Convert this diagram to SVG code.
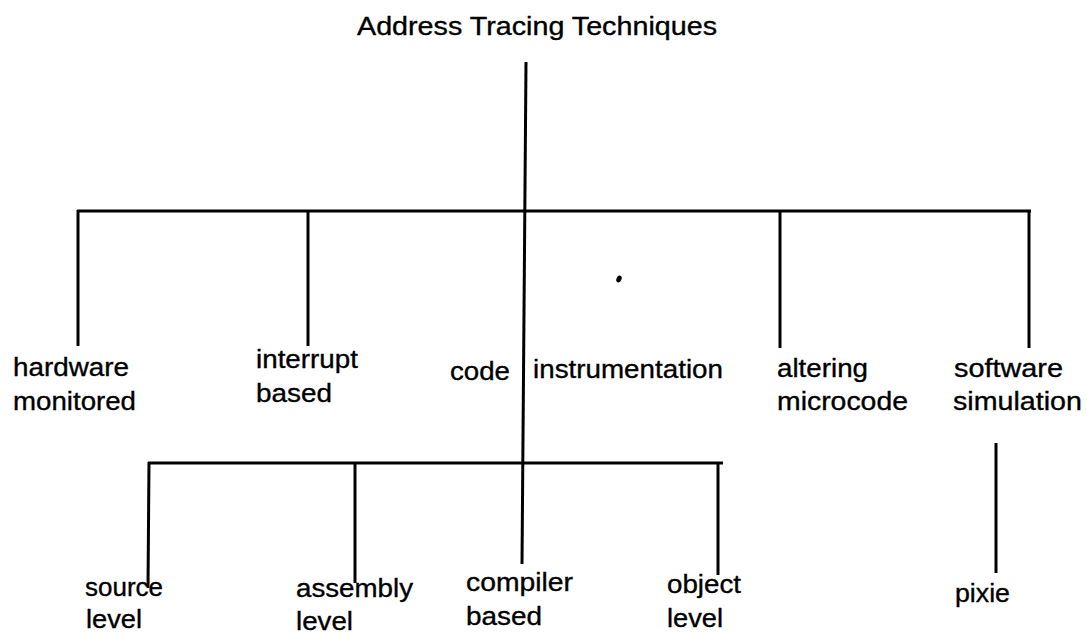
<svg xmlns="http://www.w3.org/2000/svg" width="1087" height="634" viewBox="0 0 1087 634">
<style>
text{font-family:"Liberation Sans",Arial,sans-serif;font-size:26px;fill:#000;stroke:#000;stroke-width:0.35}
.c line{stroke:#000;stroke-width:3;stroke-linecap:butt}
</style>
<rect width="1087" height="634" fill="#fff"/>
<g id="connectors" class="c">
<line x1="526" y1="62" x2="522" y2="564"/>
<line x1="77" y1="211" x2="1031" y2="211"/>
<line x1="78" y1="210" x2="78" y2="346"/>
<line x1="308" y1="210" x2="308" y2="346"/>
<line x1="780" y1="210" x2="780" y2="348"/>
<line x1="1029" y1="210" x2="1029" y2="348"/>
<line x1="148" y1="463" x2="723" y2="463"/>
<line x1="149" y1="462" x2="148" y2="588"/>
<line x1="355" y1="462" x2="355" y2="583"/>
<line x1="718" y1="462" x2="718" y2="575"/>
<line x1="996" y1="443" x2="996" y2="573"/>
</g>
<ellipse cx="619" cy="279" rx="2.5" ry="3.5" transform="rotate(25 619 279)" fill="#000"/>
<g id="root"><text x="357" y="35" textLength="360" lengthAdjust="spacingAndGlyphs">Address Tracing Techniques</text></g>
<g id="hardware"><text x="13" y="376" textLength="116" lengthAdjust="spacingAndGlyphs">hardware</text><text x="13" y="410" textLength="123" lengthAdjust="spacingAndGlyphs">monitored</text></g>
<g id="interrupt"><text x="256" y="368" textLength="102" lengthAdjust="spacingAndGlyphs">interrupt</text><text x="256" y="402" textLength="76" lengthAdjust="spacingAndGlyphs">based</text></g>
<g id="code"><text x="450" y="380" textLength="60" lengthAdjust="spacingAndGlyphs">code</text><text x="533" y="378" textLength="190" lengthAdjust="spacingAndGlyphs">instrumentation</text></g>
<g id="altering"><text x="777" y="377" textLength="91" lengthAdjust="spacingAndGlyphs">altering</text><text x="777" y="410" textLength="131" lengthAdjust="spacingAndGlyphs">microcode</text></g>
<g id="software"><text x="954" y="377" textLength="109" lengthAdjust="spacingAndGlyphs">software</text><text x="953" y="410" textLength="129" lengthAdjust="spacingAndGlyphs">simulation</text></g>
<g id="source"><text x="85" y="596" textLength="78" lengthAdjust="spacingAndGlyphs">source</text><text x="86" y="628" textLength="56" lengthAdjust="spacingAndGlyphs">level</text></g>
<g id="assembly"><text x="296" y="597" textLength="117" lengthAdjust="spacingAndGlyphs">assembly</text><text x="296" y="630" textLength="57" lengthAdjust="spacingAndGlyphs">level</text></g>
<g id="compiler"><text x="466" y="591" textLength="107" lengthAdjust="spacingAndGlyphs">compiler</text><text x="466" y="625" textLength="76" lengthAdjust="spacingAndGlyphs">based</text></g>
<g id="object"><text x="667" y="593" textLength="74" lengthAdjust="spacingAndGlyphs">object</text><text x="667" y="627" textLength="56" lengthAdjust="spacingAndGlyphs">level</text></g>
<g id="pixie"><text x="955" y="602" textLength="55" lengthAdjust="spacingAndGlyphs">pixie</text></g>
</svg>
